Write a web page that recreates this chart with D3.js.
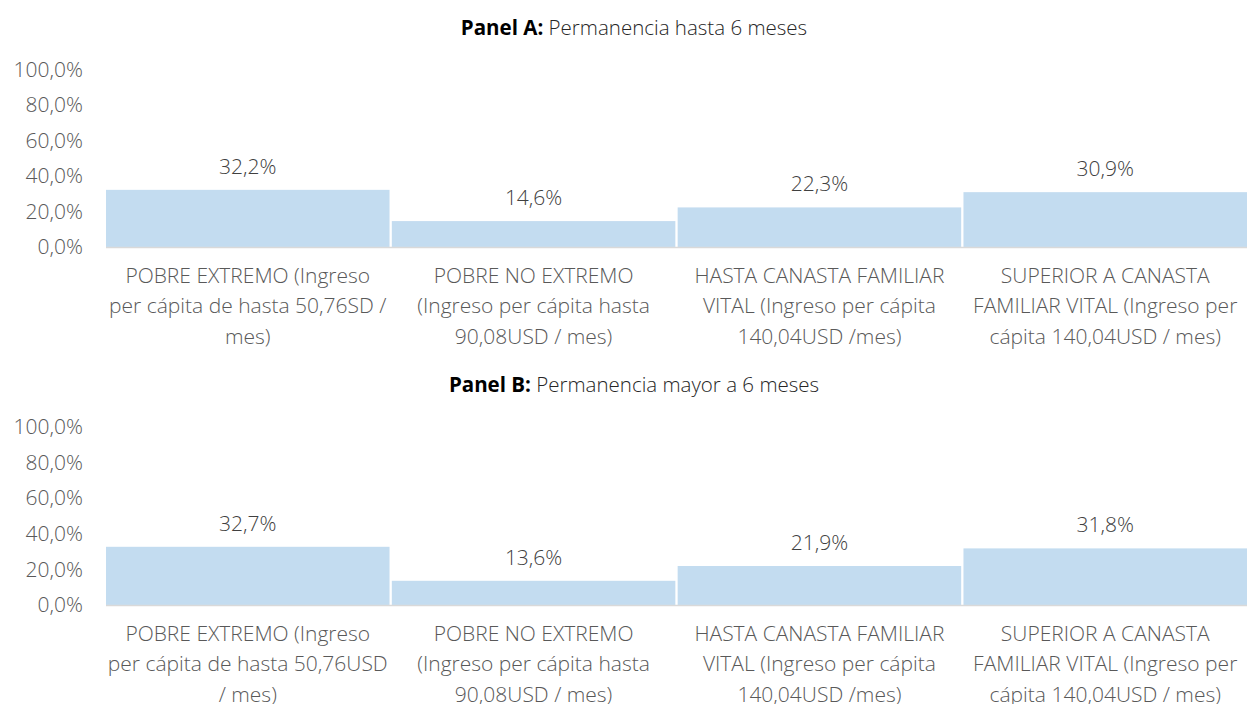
<!DOCTYPE html>
<html>
<head>
<meta charset="utf-8">
<script src="https://cdn.jsdelivr.net/npm/d3@7"></script>
<style>
  body { margin: 0; background: #fff; }
  svg text { font-family: "Open Sans", "Noto Sans", sans-serif; }
</style>
</head>
<body>
<div id="chart"></div>
<script>
// data
const categories = ['pe', 'pne', 'hcf', 'scf'];
const panelTitles = [
  { bold: 'Panel A:', rest: ' Permanencia hasta 6 meses' },
  { bold: 'Panel B:', rest: ' Permanencia mayor a 6 meses' }
];
const valuesA = [32.2, 14.6, 22.3, 30.9];
const valuesB = [32.7, 13.6, 21.9, 31.8];
const labelsA = [
  ['POBRE EXTREMO (Ingreso', 'per cápita de hasta 50,76SD /', 'mes)'],
  ['POBRE NO EXTREMO', '(Ingreso per cápita hasta', '90,08USD / mes)'],
  ['HASTA CANASTA FAMILIAR', 'VITAL (Ingreso per cápita', '140,04USD /mes)'],
  ['SUPERIOR A CANASTA', 'FAMILIAR VITAL (Ingreso per', 'cápita 140,04USD / mes)']
];
const labelsB = [
  ['POBRE EXTREMO (Ingreso', 'per cápita de hasta 50,76USD', '/ mes)'],
  ['POBRE NO EXTREMO', '(Ingreso per cápita hasta', '90,08USD / mes)'],
  ['HASTA CANASTA FAMILIAR', 'VITAL (Ingreso per cápita', '140,04USD /mes)'],
  ['SUPERIOR A CANASTA', 'FAMILIAR VITAL (Ingreso per', 'cápita 140,04USD / mes)']
];
const yTicks = [0, 20, 40, 60, 80, 100];

const W = 1247, H = 704;
const svg = d3.select('#chart').append('svg')
  .attr('width', W).attr('height', H);

const fmt = v => v.toFixed(1).replace('.', ',') + '%';
const textColor = '#595959';
const fs = 21;

function drawPanel(values, labels, title, top, base) {
  const x = d3.scaleBand().domain(categories).range([106, 1247]).paddingInner(0.008).paddingOuter(0);
  const y = d3.scaleLinear().domain([0, 100]).range([base, top]);

  // title
  const t = svg.append('text')
    .attr('x', 634).attr('y', top - 35)
    .attr('text-anchor', 'middle')
    .attr('font-size', 20.5);
  t.append('tspan').attr('font-weight', 'bold').attr('fill', '#000').text(title.bold);
  t.append('tspan').attr('fill', '#262626').attr('font-weight', 300).text(title.rest);

  // y axis labels
  const yAxis = svg.append('g')
    .attr('transform', 'translate(83,0)')
    .call(d3.axisLeft(y).tickValues(yTicks).tickFormat(fmt).tickSize(0).tickPadding(0));
  yAxis.select('.domain').remove();
  yAxis.selectAll('text')
    .attr('font-size', fs)
    .attr('font-weight', 300)
    .attr('fill', textColor)
    .style('font-family', '"Open Sans", sans-serif');

  // bars
  svg.append('g').selectAll('rect')
    .data(values)
    .join('rect')
    .attr('x', (d, i) => x(categories[i]))
    .attr('width', x.bandwidth())
    .attr('y', d => y(d))
    .attr('height', d => base - y(d))
    .attr('fill', '#c3dcf0');

  // baseline
  svg.append('line')
    .attr('x1', 106).attr('x2', 1247)
    .attr('y1', base + 0.5).attr('y2', base + 0.5)
    .attr('stroke', '#d9d9d9').attr('stroke-width', 1.5);

  // value labels
  svg.append('g').selectAll('text')
    .data(values)
    .join('text')
    .attr('x', (d, i) => x(categories[i]) + x.bandwidth() / 2)
    .attr('y', d => y(d) - 16)
    .attr('text-anchor', 'middle')
    .attr('font-size', fs)
    .attr('font-weight', 300)
    .attr('fill', '#404040')
    .text(fmt);

  // category labels
  const cat = svg.append('g').selectAll('text')
    .data(labels)
    .join('text')
    .attr('x', (d, i) => x(categories[i]) + x.bandwidth() / 2)
    .attr('y', base + 36)
    .attr('text-anchor', 'middle')
    .attr('font-size', fs)
    .attr('font-weight', 300)
    .attr('fill', textColor);
  cat.selectAll('tspan')
    .data(d => d)
    .join('tspan')
    .attr('x', function () { return this.parentNode.getAttribute('x'); })
    .attr('dy', (d, i) => i === 0 ? 0 : 30.3)
    .text(d => d);
}

drawPanel(valuesA, labelsA, panelTitles[0], 69.5, 247);
drawPanel(valuesB, labelsB, panelTitles[1], 427, 605);
</script>
</body>
</html>
